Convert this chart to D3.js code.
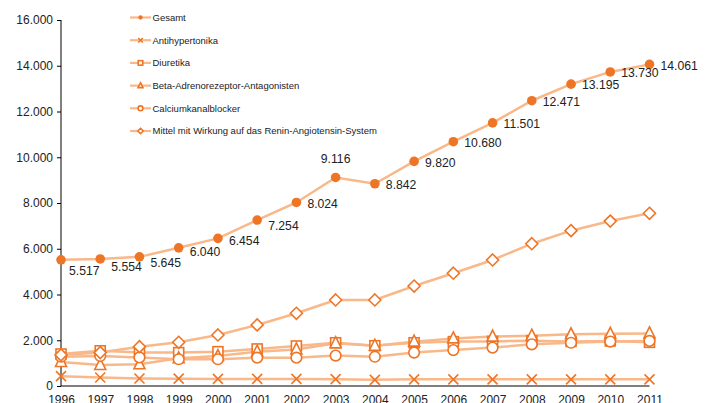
<!DOCTYPE html>
<html><head><meta charset="utf-8">
<script src="https://cdn.jsdelivr.net/npm/d3@7"></script>
<style>body{margin:0;background:#fff}svg{display:block;font-family:"Liberation Sans",Arial,sans-serif}</style>
</head><body><svg id="c" width="707" height="403"></svg>
<script>
const years = [1996,1997,1998,1999,2000,2001,2002,2003,2004,2005,2006,2007,2008,2009,2010,2011];
const gesamt = [5517,5554,5645,6040,6454,7254,8024,9116,8842,9820,10680,11501,12471,13195,13730,14061];
const antihypertonika = [430,370,330,320,310,310,310,300,270,290,290,290,290,290,290,290];
const diuretika = [1400,1540,1460,1460,1500,1620,1750,1890,1760,1890,1940,1950,1980,1950,1970,1910];
const betablocker = [1050,920,950,1210,1310,1500,1600,1870,1760,1940,2080,2160,2200,2260,2280,2300];
const calcium = [1280,1310,1250,1170,1170,1240,1240,1330,1280,1460,1570,1680,1820,1890,1940,1970];
const ras = [1360,1460,1720,1910,2230,2670,3180,3760,3760,4370,4930,5510,6220,6790,7210,7550];
const seriesNames = ["Gesamt","Antihypertonika","Diuretika","Beta-Adrenorezeptor-Antagonisten","Calciumkanalblocker","Mittel mit Wirkung auf das Renin-Angiotensin-System"];
const yTicks = [0,2000,4000,6000,8000,10000,12000,14000,16000];
// label placement for Gesamt: "below" = right & lower, "right", "above"
const labelPlace = ["below","below","below","below","below","below","right","above","right","right","right","right","right","right","right","right"];
const belowOffsets = [10,7.5,5,3,2,5];

const LINE = "#F9B88A", MARK = "#EE7526";
const svg = d3.select("#c");
const x = d3.scaleLinear().domain([1996,2011]).range([61,649.5]);
const y = d3.scaleLinear().domain([0,16000]).range([386,20]);
const fmt = v => d3.format(",")(v).replace(/,/g,".");

// axes
const yAx = svg.append("g").attr("transform","translate(61,0)")
  .call(d3.axisLeft(y).tickValues(yTicks).tickSize(4).tickFormat(fmt));
yAx.select(".domain").attr("stroke","#000").attr("d","M0,20V386");
yAx.selectAll(".tick line").attr("stroke","#000");
yAx.selectAll("text").attr("font-size",12).attr("fill","#222").attr("x",-8).attr("font-family","Liberation Sans, Arial, sans-serif");

const xAx = svg.append("g").attr("transform","translate(0,386)")
  .call(d3.axisBottom(x).tickValues(years).tickSize(0).tickFormat(d3.format("d")));
xAx.select(".domain").attr("stroke","#000").attr("d","M61,0H649.5");
xAx.selectAll("text").attr("font-size",12).attr("fill","#222").attr("y",3).attr("dy","1.25em").attr("font-family","Liberation Sans, Arial, sans-serif");

const line = d3.line().x((d,i)=>x(years[i])).y(d=>y(d));
const allSeries = [
  {name:seriesNames[1], data:antihypertonika, m:"x"},
  {name:seriesNames[2], data:diuretika, m:"square"},
  {name:seriesNames[3], data:betablocker, m:"triangle"},
  {name:seriesNames[4], data:calcium, m:"circle"},
  {name:seriesNames[5], data:ras, m:"diamond"},
  {name:seriesNames[0], data:gesamt, m:"dot"}
];

function marker(g, type, cx, cy, s){
  const k = s||1;
  if(type==="dot") g.append("circle").attr("cx",cx).attr("cy",cy).attr("r",4.8*k).attr("fill",MARK);
  else if(type==="x") g.append("path").attr("d",`M${cx-5*k},${cy-5*k}L${cx+5*k},${cy+5*k}M${cx-5*k},${cy+5*k}L${cx+5*k},${cy-5*k}`).attr("stroke",MARK).attr("stroke-width",1.6).attr("fill","none");
  else if(type==="square") g.append("rect").attr("x",cx-5*k).attr("y",cy-5*k).attr("width",10*k).attr("height",10*k).attr("fill","#fff").attr("stroke",MARK).attr("stroke-width",1.6);
  else if(type==="triangle") g.append("path").attr("d",`M${cx},${cy-6.5*k}L${cx+5.5*k},${cy+4.5*k}L${cx-5.5*k},${cy+4.5*k}Z`).attr("fill","#fff").attr("stroke",MARK).attr("stroke-width",1.6);
  else if(type==="circle") g.append("circle").attr("cx",cx).attr("cy",cy).attr("r",5.3*k).attr("fill","#fff").attr("stroke",MARK).attr("stroke-width",1.6);
  else if(type==="diamond") g.append("path").attr("d",`M${cx},${cy-6*k}L${cx+6*k},${cy}L${cx},${cy+6*k}L${cx-6*k},${cy}Z`).attr("fill","#fff").attr("stroke",MARK).attr("stroke-width",1.6);
}

const plot = svg.append("g");
allSeries.forEach(s=>{
  plot.append("path").attr("d",line(s.data)).attr("fill","none").attr("stroke",LINE).attr("stroke-width",2.5);
});
allSeries.forEach(s=>{
  const g = plot.append("g");
  s.data.forEach((v,i)=>marker(g,s.m,x(years[i]),y(v)));
});

// Gesamt labels
const lg = svg.append("g").attr("font-size",12.2).attr("fill","#222");
gesamt.forEach((v,i)=>{
  const cx=x(years[i]), cy=y(v), p=labelPlace[i];
  const t = lg.append("text").text(fmt(v));
  if(p==="above") t.attr("x",cx).attr("y",cy-14).attr("text-anchor","middle");
  else if(p==="right") t.attr("x",cx+11).attr("y",cy+1).attr("dy","0.35em");
  else {
    const off = belowOffsets[i]||3;
    t.attr("x",cx+(i===0?8:11)).attr("y",cy+off).attr("dy","0.4em");
  }
});

// legend
const leg = svg.append("g").attr("font-size",9.5).attr("fill","#222");
seriesNames.forEach((n,i)=>{
  const ly = 17.5 + i*22.7;
  const type = ["dot","x","square","triangle","circle","diamond"][i];
  leg.append("line").attr("x1",130).attr("x2",151).attr("y1",ly).attr("y2",ly).attr("stroke",LINE).attr("stroke-width",2.2);
  marker(leg, type, 140.5, ly, 0.45);
  leg.append("text").attr("x",152.5).attr("y",ly).attr("dy","0.35em").text(n);
});
</script></body></html>
